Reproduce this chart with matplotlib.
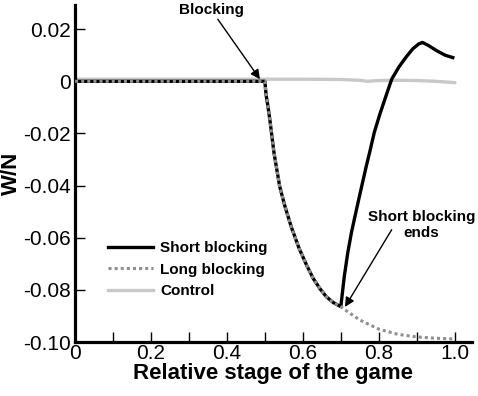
import matplotlib
matplotlib.use("Agg")
import matplotlib.pyplot as plt
from matplotlib.ticker import MultipleLocator, FixedLocator

plt.rcParams["font.family"] = ["Liberation Sans", "DejaVu Sans"]

# series
long_x = [0.0, 0.5, 0.503, 0.508, 0.513, 0.524, 0.539, 0.553, 0.57, 0.59, 0.61, 0.627,
          0.645, 0.662, 0.68, 0.70, 0.72, 0.75, 0.80, 0.85, 0.90, 0.95, 1.0]
long_y = [0.0, 0.0, -0.005, -0.0095, -0.0146, -0.0274, -0.0403, -0.048, -0.056, -0.064, -0.0705, -0.0755,
          -0.0795, -0.0826, -0.0848, -0.0864, -0.0885, -0.0915, -0.095, -0.097, -0.098, -0.0985, -0.0988]

short_x = [0.0, 0.5, 0.503, 0.508, 0.513, 0.524, 0.539, 0.553, 0.57, 0.59, 0.61, 0.627,
           0.645, 0.662, 0.68, 0.70,
           0.709, 0.718, 0.728, 0.737, 0.747, 0.757, 0.767, 0.778, 0.788, 0.802, 0.816,
           0.834, 0.853, 0.873, 0.89, 0.905, 0.915, 0.93, 0.953, 0.975, 0.995]
short_y = [0.0, 0.0, -0.005, -0.0095, -0.0146, -0.0274, -0.0403, -0.048, -0.056, -0.064, -0.0705, -0.0755,
           -0.0795, -0.0826, -0.0848, -0.0864,
           -0.075, -0.066, -0.058, -0.052, -0.0454, -0.039, -0.0326, -0.026, -0.0197, -0.013, -0.0069,
           0.0008, 0.0055, 0.0095, 0.0125, 0.0143, 0.0149, 0.0138, 0.0117, 0.0100, 0.0091]

ctrl_x = [0.0, 0.2, 0.4, 0.5, 0.6, 0.7, 0.75, 0.77, 0.8, 0.85, 0.9, 0.95, 1.0]
ctrl_y = [0.0008, 0.0008, 0.0008, 0.0008, 0.0008, 0.0007, 0.0004, 0.0, 0.0003, 0.0004, 0.0003, 0.0, -0.0005]

labels = ["Short blocking", "Long blocking", "Control"]

fig = plt.figure(figsize=(4.78, 3.96), dpi=100)
ax = fig.add_axes([0.157, 0.136, 0.83, 0.851])

ax.plot(ctrl_x, ctrl_y, color="#c8c8c8", lw=2.4, label=labels[2], zorder=2)
ax.plot(short_x, short_y, color="black", lw=2.4, label=labels[0], zorder=3)
ax.plot(long_x, long_y, color="#8f8f8f", lw=2.2, ls=(0, (1, 1)), label=labels[1], zorder=4)

ax.set_xlim(0, 1.045)
ax.set_ylim(-0.10, 0.0292)
ax.xaxis.set_major_locator(FixedLocator([0, 0.2, 0.4, 0.6, 0.8, 1.0]))
ax.xaxis.set_minor_locator(FixedLocator([0.1, 0.3, 0.5, 0.7, 0.9]))
ax.set_xticklabels(["0", "0.2", "0.4", "0.6", "0.8", "1.0"])
ax.set_yticks([-0.10, -0.08, -0.06, -0.04, -0.02, 0, 0.02])
ax.set_yticklabels(["-0.10", "-0.08", "-0.06", "-0.04", "-0.02", "0", "0.02"])

for s in ["top", "right"]:
    ax.spines[s].set_visible(False)
for s in ["left", "bottom"]:
    ax.spines[s].set_linewidth(2.3)
ax.tick_params(which="both", direction="in", length=7, width=1, labelsize=15)
ax.tick_params(axis="x", pad=1)
ax.tick_params(axis="y", pad=3)

ax.set_xlabel("Relative stage of the game", fontsize=16, fontweight="bold", labelpad=0)
ax.set_ylabel("W/N", fontsize=16, fontweight="bold", labelpad=1)

ax.text(0.36, 0.0273, "Blocking", ha="center", va="center", fontsize=11, fontweight="bold")
ax.annotate("", xy=(0.487, 0.0008), xytext=(0.376, 0.0238),
            arrowprops=dict(arrowstyle="-|>", color="black", lw=1, mutation_scale=14,
                            shrinkA=0, shrinkB=0))
ax.text(0.913, -0.0552, "Short blocking\nends", ha="center", va="center", fontsize=11,
        fontweight="bold", linespacing=1.15)
ax.annotate("", xy=(0.711, -0.0865), xytext=(0.834, -0.0569),
            arrowprops=dict(arrowstyle="-|>", color="black", lw=1, mutation_scale=14,
                            shrinkA=0, shrinkB=0))

h, l = ax.get_legend_handles_labels()
order = [1, 2, 0]
ax.legend([h[i] for i in order], [l[i] for i in order], loc="upper left",
          bbox_to_anchor=(0.083, 0.30), frameon=False, borderpad=0, borderaxespad=0,
          handlelength=2.95, handletextpad=0.45, labelspacing=0.5,
          prop=dict(size=11, weight="bold"))

fig.savefig("out.png", dpi=100)
